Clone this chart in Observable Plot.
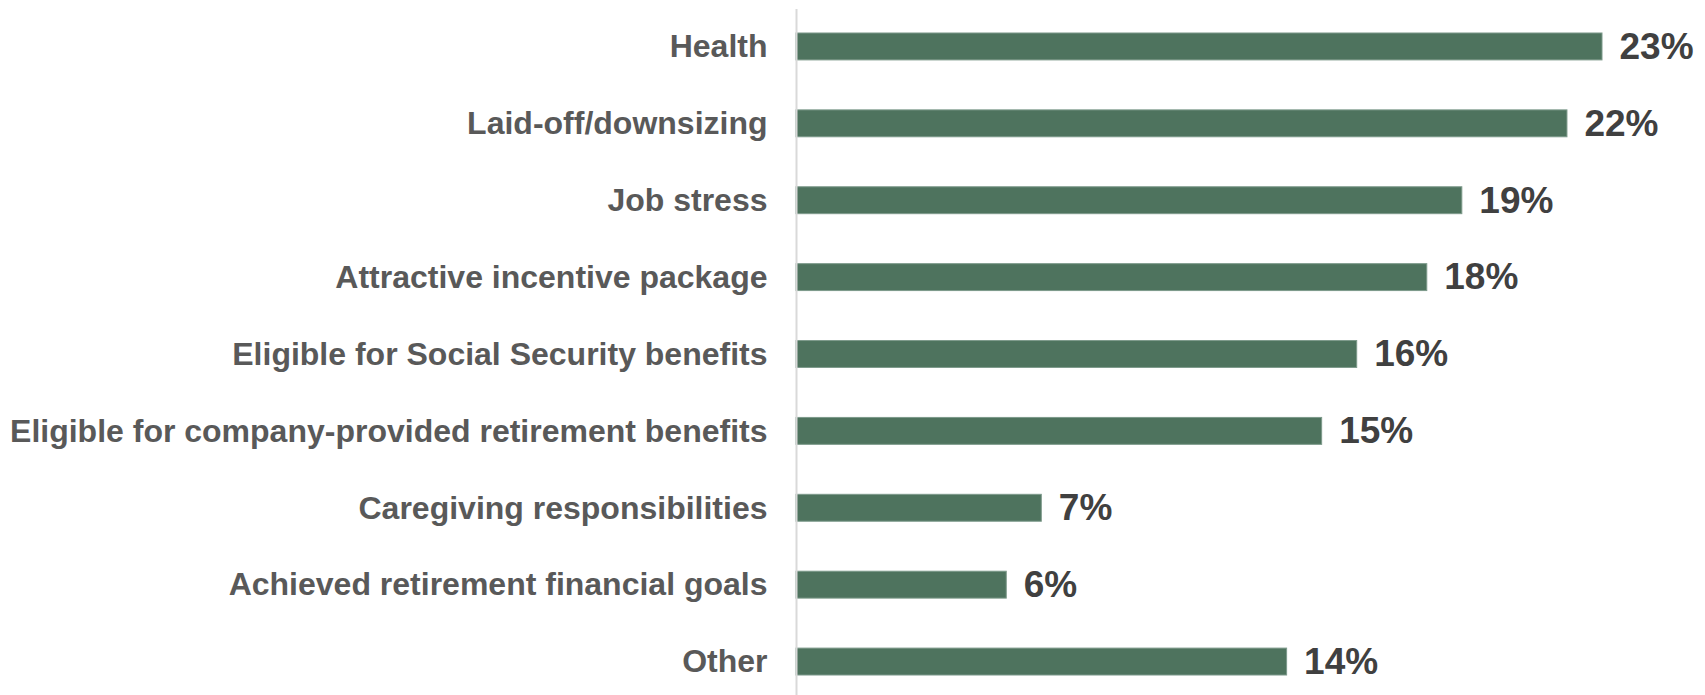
<!DOCTYPE html>
<html>
<head>
<meta charset="utf-8">
<script src="https://cdn.jsdelivr.net/npm/d3@7"></script>
<script src="https://cdn.jsdelivr.net/npm/@observablehq/plot@0.6"></script>
<style>
  html, body { margin: 0; padding: 0; background: #fff; }
  #chart svg { display: block; }
</style>
</head>
<body>
<div id="chart"></div>
<script>
const categories = [
  "Health",
  "Laid-off/downsizing",
  "Job stress",
  "Attractive incentive package",
  "Eligible for Social Security benefits",
  "Eligible for company-provided retirement benefits",
  "Caregiving responsibilities",
  "Achieved retirement financial goals",
  "Other"
];
const values = [23, 22, 19, 18, 16, 15, 7, 6, 14];

const data = categories.map((c, i) => ({category: c, value: values[i]}));

const chart = Plot.plot({
  width: 1705,
  height: 695,
  marginLeft: 796,
  marginRight: 103,
  marginTop: 9,
  marginBottom: 0,
  style: {fontFamily: "'Liberation Sans', Arial, sans-serif", background: "#fff"},
  x: {domain: [0, 23], axis: null},
  y: {domain: categories, range: [8, 700], round: false, paddingInner: 0.65, paddingOuter: 0.325, label: null},
  marks: [
    Plot.barX(data, {x: "value", y: "category", fill: "#4E735E", stroke: "#7d9a8b", strokeWidth: 1}),
    Plot.ruleX([0], {stroke: "#d9d9d9", strokeWidth: 2}),
    Plot.axisY({tickSize: 0, tickPadding: 29, fontSize: 32, fontWeight: "bold", color: "#595959", label: null}),
    Plot.text(data, {x: "value", y: "category", text: d => d.value + "%", textAnchor: "start", dx: 17, fontSize: 37, fontWeight: "bold", fill: "#404040"})
  ]
});
document.getElementById("chart").appendChild(chart);
</script>
</body>
</html>
